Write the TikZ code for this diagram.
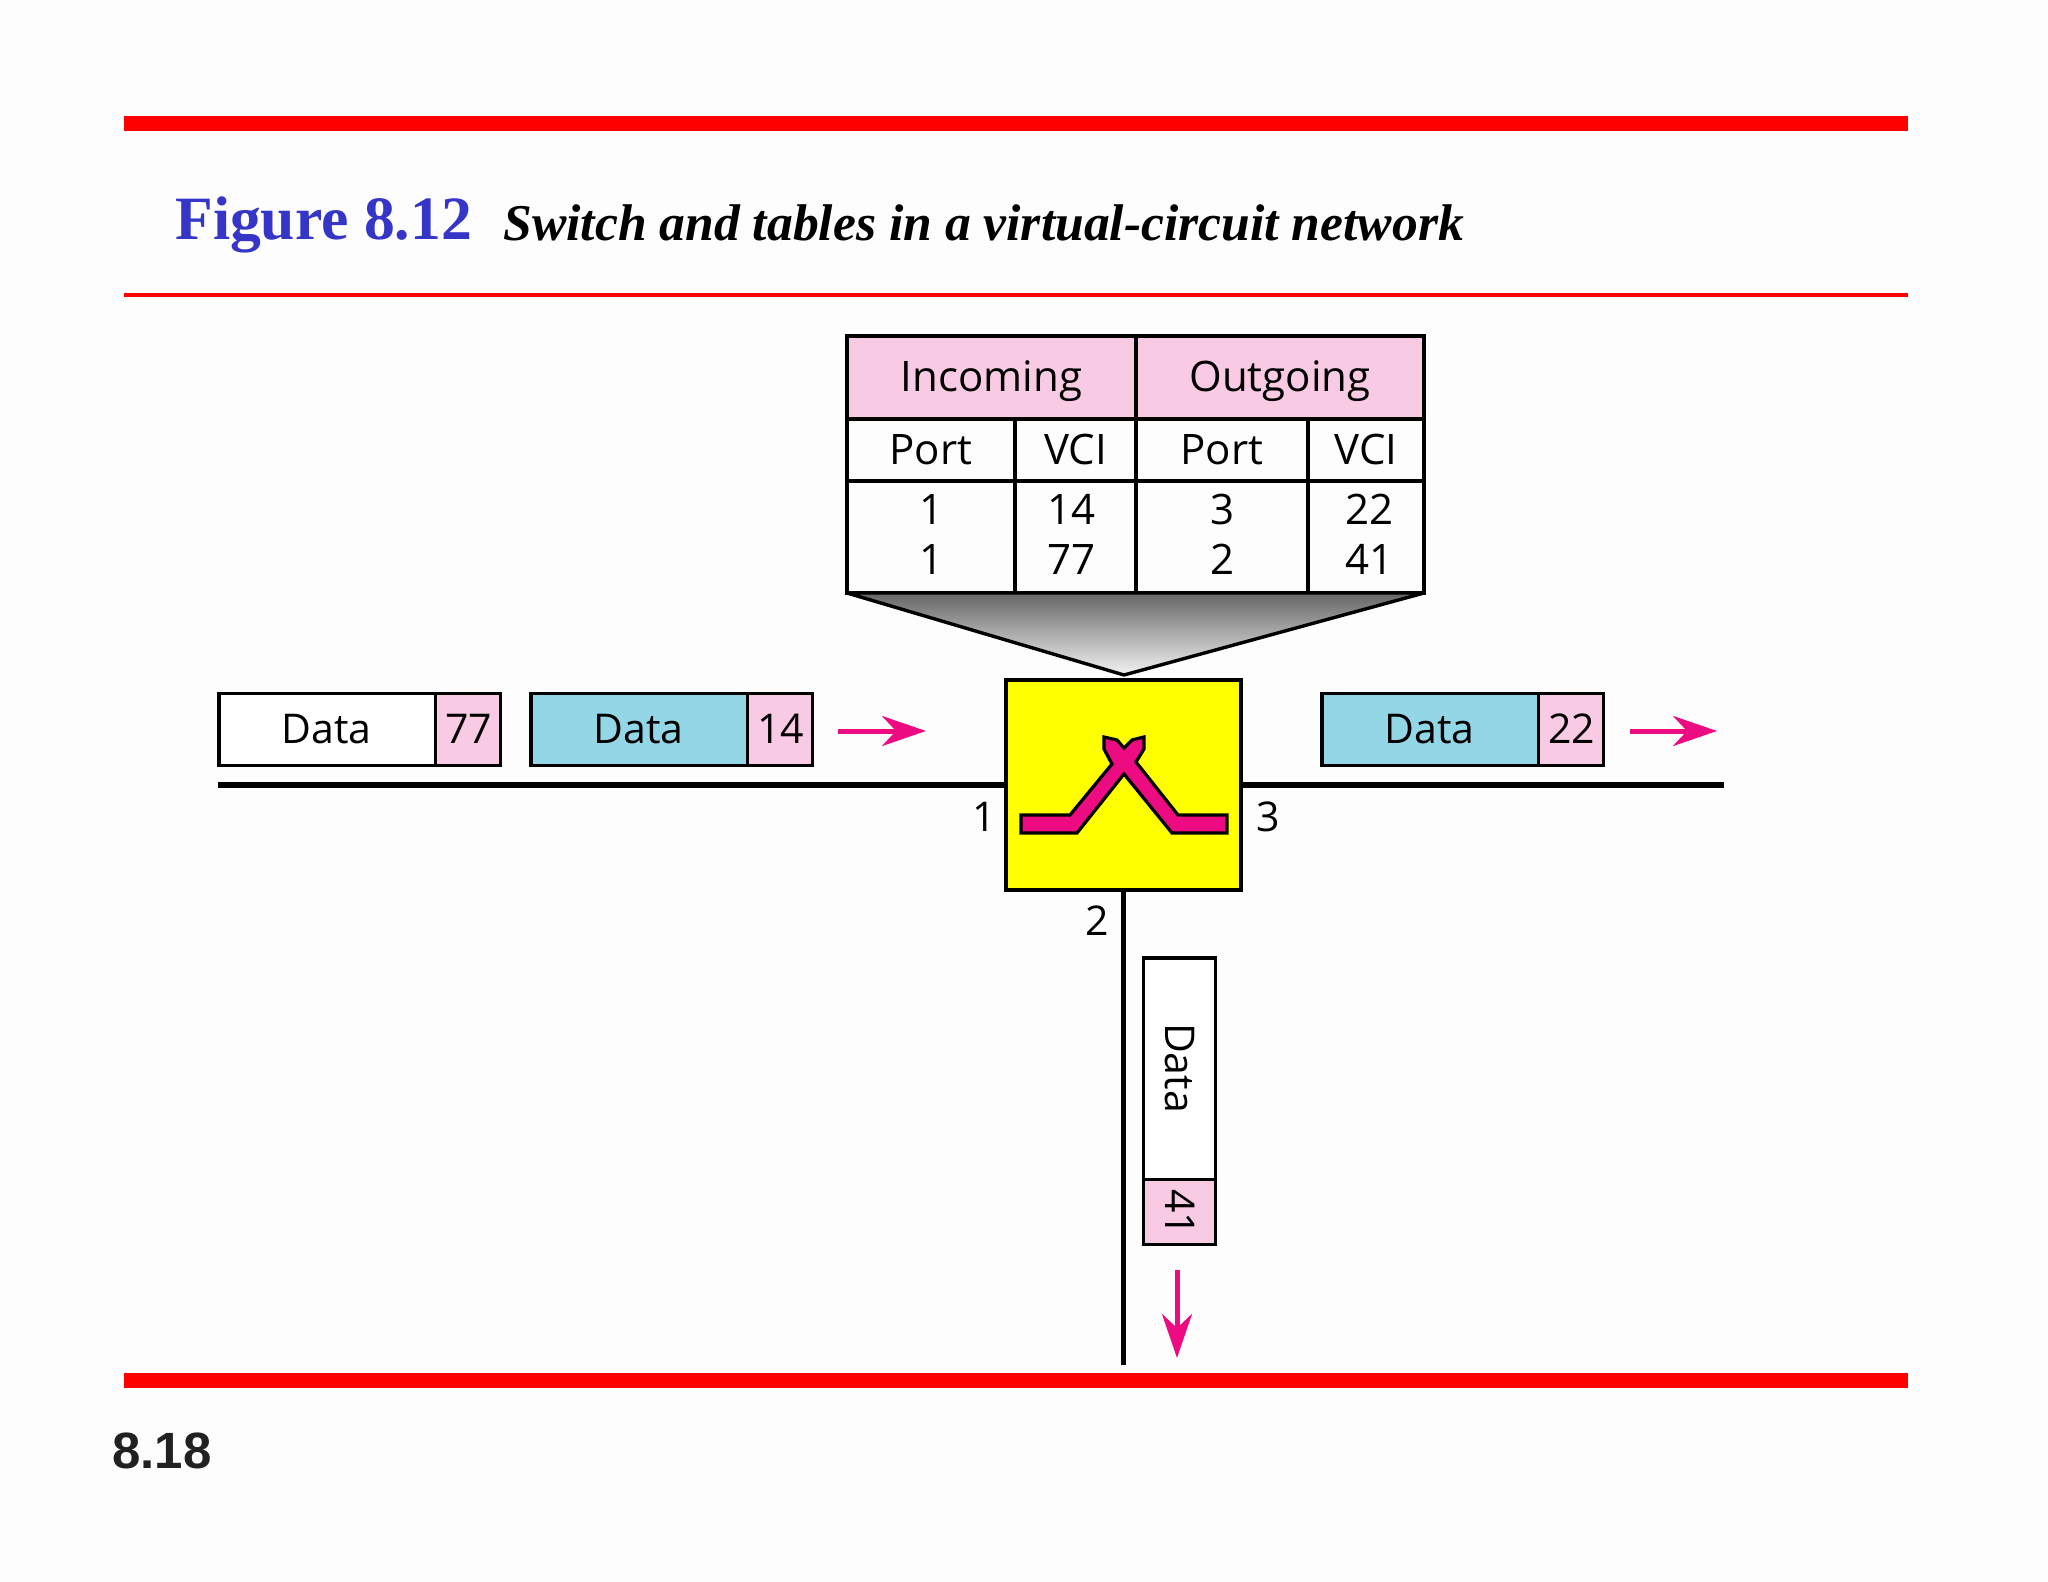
\documentclass[tikz,border=0pt]{standalone}
\usepackage{fontspec}
\setmainfont{Open Sans}
\newfontfamily\titlefont{Liberation Serif}
\newfontfamily\pagefont{Liberation Sans}
\usetikzlibrary{shapes}
\usetikzlibrary{arrows.meta}
\definecolor{barred}{HTML}{FF0000}
\definecolor{titleblue}{HTML}{3535C8}
\definecolor{vcipink}{HTML}{F9CAE3}
\definecolor{datacyan}{HTML}{93D6E6}
\definecolor{hotpink}{HTML}{EC0B80}
\definecolor{switchyellow}{HTML}{FFFF00}
\definecolor{paper}{HTML}{FDFDFD}
\newcommand{\pktdata}[1][107.5pt]{\makebox[#1]{\rule[-11pt]{0pt}{36pt}Data}}
\newcommand{\pktvci}[1]{\makebox[31.5pt]{\rule[-11pt]{0pt}{36pt}#1}}

\begin{document}
\begin{tikzpicture}[x=0.5pt,y=-0.5pt]
					\tikzstyle{every node}=[font=\fontsize{20.5}{25}\selectfont]
					\tikzstyle{bar}=[barred,line width=7.5pt]
					\tikzstyle{cell}=[draw,line width=1.7pt,inner sep=0pt,outer sep=0pt,anchor=north west,align=center,font=\fontsize{21}{25}\selectfont]
					\tikzstyle{headcell}=[cell,fill=vcipink,minimum height=41.5pt,text height=19.5pt]
					\tikzstyle{valcell}=[cell,minimum height=56pt,text depth=2.6pt]
					\tikzstyle{packet}=[rectangle split,rectangle split horizontal,rectangle split parts=2,draw,line width=1.6pt,inner sep=0pt,outer sep=0pt,anchor=west]
					\tikzstyle{wire}=[line width=2.6pt]
					\tikzstyle{flow}=[hotpink,line width=2.5pt,-{Stealth[length=22pt,width=15pt,inset=7pt]}]
					\useasboundingbox[fill=paper] (0,0) rectangle (2048,1582);
					% rules and titles
					\draw[bar] (124,124) -- (1908,124);
					\draw[barred,line width=2pt] (124,295) -- (1908,295);
					\draw[bar] (124,1380) -- (1908,1380);
					\node[anchor=base west,inner sep=0pt,font=\titlefont\bfseries\fontsize{30.8}{36}\selectfont,text=titleblue] (figno) at (175,240) {Figure 8.12};
					\node[anchor=base west,inner sep=0pt,font=\titlefont\bfseries\itshape\fontsize{25.8}{30}\selectfont] (figname) at (503,241) {Switch and tables in a virtual-circuit network};
					\node[anchor=base west,inner sep=0pt,font=\pagefont\bfseries\fontsize{25.5}{30}\selectfont,text=black!87] (pageno) at (112,1468) {8.18};
					% table
					\node[headcell,minimum width=144.5pt] (inhead) at (847,336) {Incoming};
					\node[headcell,minimum width=144pt] (outhead) at (inhead.north east) {Outgoing};
					\node[cell,minimum width=84pt,minimum height=31pt] (inport) at (inhead.south west) {Port};
					\node[cell,minimum width=60.5pt,minimum height=31pt] (invci) at (inport.north east) {VCI};
					\node[cell,minimum width=86pt,minimum height=31pt] (outport) at (invci.north east) {Port};
					\node[cell,minimum width=58pt,minimum height=31pt] (outvci) at (outport.north east) {VCI};
					\node[valcell,minimum width=84pt] (inportval) at (inport.south west) {1\\1};
					\node[valcell,minimum width=60.5pt] (invcival) at (inportval.north east) {\hspace*{-4pt}14\\\hspace*{-4pt}77};
					\node[valcell,minimum width=86pt] (outportval) at (invcival.north east) {3\\2};
					\node[valcell,minimum width=58pt] (outvcival) at (outportval.north east) {\hspace*{3pt}22\\\hspace*{3pt}41};
					% switch
					\coordinate (apex) at (1124,675);
					\node[draw,fill=switchyellow,line width=1.7pt,inner sep=0pt,outer sep=0pt,minimum width=117.5pt,minimum height=105pt,anchor=north west] (switch) at (1006,680) {};
					\shade[top color=black!60,bottom color=black!5,draw=black,line width=1.7pt,line join=bevel] (inportval.south west) -- (outvcival.south east) -- (apex) -- cycle;
					\draw[fill=hotpink,line width=1.6pt,line join=miter] (1021,815) -- (1070,815) -- (1112,764) -- (1104,749) -- (1104,737) -- (1117,740) -- (1124,748) -- (1132,740) -- (1144,737) -- (1144,749) -- (1136,762) -- (1178,815) -- (1227,815) -- (1227,833) -- (1172,833) -- (1124,774) -- (1077,833) -- (1021,833) -- cycle;
					% lines
					\coordinate (leftend) at (218,785);
					\coordinate (rightend) at (1724,785);
					\coordinate (downend) at (1123.5,1365);
					\draw[wire] (leftend) -- (switch.west |- leftend);
					\draw[wire] (switch.east |- rightend) -- (rightend);
					\draw[wire] (switch.south) -- (downend);
					\node (portone) at (984,817) {1};
					\node (portthree) at (1268,817) {3};
					\node (porttwo) at (1097,921) {2};
					% packets
					\node[packet,rectangle split part fill={white,vcipink}] (pktleft) at (219,729.5) {\pktdata \nodepart{two}\pktvci{77}};
					\node[packet,rectangle split part fill={datacyan,vcipink}] (pktmid) at (531,729.5) {\pktdata \nodepart{two}\pktvci{14}};
					\node[packet,rectangle split part fill={datacyan,vcipink}] (pktright) at (1322,729.5) {\pktdata \nodepart{two}\pktvci{22}};
					\node[packet,rotate=-90,rectangle split part fill={white,vcipink}] (pktdown) at (1179.5,958) {\pktdata[110pt] \nodepart{two}\pktvci{41}};
					% arrows
					\coordinate (midfrom) at (838,731);
					\coordinate (midto) at (926,731);
					\coordinate (rightfrom) at (1630,731);
					\coordinate (rightto) at (1717,731);
					\coordinate (downfrom) at (1177,1270);
					\coordinate (downto) at (1177,1358);
					\draw[flow] (midfrom) -- (midto);
					\draw[flow] (rightfrom) -- (rightto);
					\draw[flow] (downfrom) -- (downto);
\end{tikzpicture}
\end{document}
